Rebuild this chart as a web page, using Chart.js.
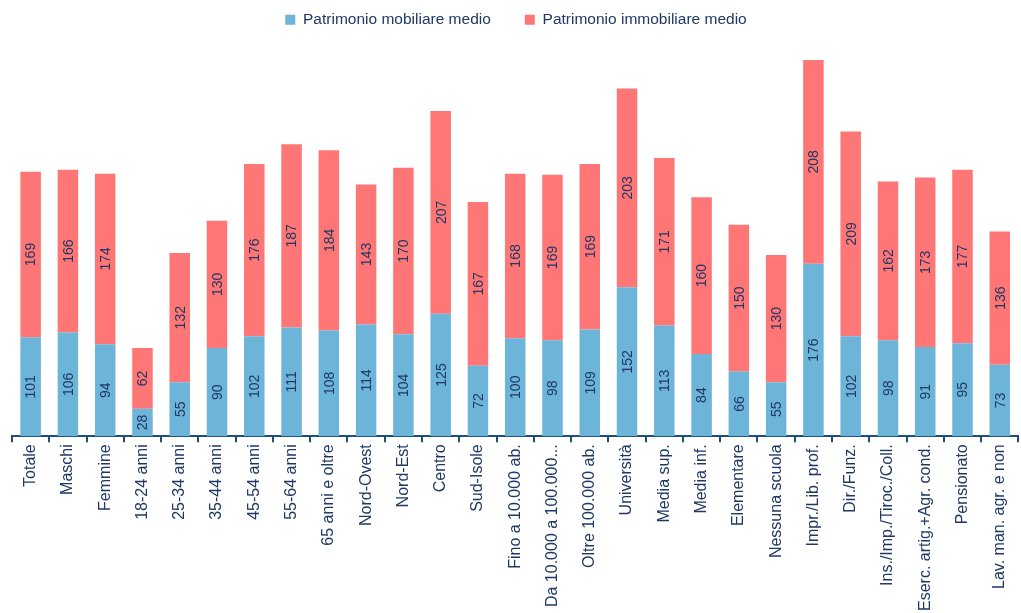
<!DOCTYPE html>
<html>
<head>
<meta charset="utf-8">
<script src="https://cdn.jsdelivr.net/npm/chart.js@4.4.1/dist/chart.umd.min.js"></script>
<style>
  html, body { margin: 0; padding: 0; background: #fff; }
  #wrap { width: 1021px; height: 613px; position: relative; }
</style>
</head>
<body>
<div id="wrap"><canvas id="chart"></canvas></div>
<script>
const categories = [
  "Totale", "Maschi", "Femmine", "18-24 anni", "25-34 anni", "35-44 anni",
  "45-54 anni", "55-64 anni", "65 anni e oltre", "Nord-Ovest", "Nord-Est",
  "Centro", "Sud-Isole", "Fino a 10.000 ab.", "Da 10.000 a 100.000...",
  "Oltre 100.000 ab.", "Università", "Media sup.", "Media inf.", "Elementare",
  "Nessuna scuola", "Impr./Lib. prof.", "Dir./Funz.", "Ins./Imp./Tiroc./Coll.",
  "Eserc. artig.+Agr. cond.", "Pensionato", "Lav. man. agr. e non"
];
const mobiliare = [101, 106, 94, 28, 55, 90, 102, 111, 108, 114, 104, 125, 72,
  100, 98, 109, 152, 113, 84, 66, 55, 176, 102, 98, 91, 95, 73];
const immobiliare = [169, 166, 174, 62, 132, 130, 176, 187, 184, 143, 170, 207, 167,
  168, 169, 169, 203, 171, 160, 150, 130, 208, 209, 162, 173, 177, 136];

const textColor = "#1f3864";
const axisColor = "#1f4e79";
const fontFamily = "'Liberation Sans', Arial, sans-serif";

// numbers written vertically inside each bar segment
const barLabels = {
  id: "barLabels",
  afterDatasetsDraw(chart) {
    const ctx = chart.ctx;
    ctx.save();
    ctx.font = "14px " + fontFamily;
    ctx.fillStyle = textColor;
    ctx.textAlign = "center";
    ctx.textBaseline = "middle";
    chart.data.datasets.forEach((ds, di) => {
      chart.getDatasetMeta(di).data.forEach((bar, i) => {
        const { x, y, base } = bar.getProps(["x", "y", "base"], true);
        ctx.save();
        ctx.translate(x, (y + base) / 2);
        ctx.rotate(-Math.PI / 2);
        ctx.fillText(String(ds.data[i]), 0, 1);
        ctx.restore();
      });
    });
    ctx.restore();
  }
};

new Chart(document.getElementById("chart"), {
  type: "bar",
  data: {
    labels: categories,
    datasets: [
      { label: "Patrimonio mobiliare medio", data: mobiliare, backgroundColor: "#6cb4d8" },
      { label: "Patrimonio immobiliare medio", data: immobiliare, backgroundColor: "#ff7676" }
    ]
  },
  options: {
    responsive: true,
    maintainAspectRatio: false,
    animation: false,
    // negative top pulls the wide-spaced legend up to the edge
    layout: { padding: { left: 12, right: 1, top: -22, bottom: 0 } },
    datasets: { bar: { barPercentage: 0.55, categoryPercentage: 1 } },
    plugins: {
      legend: {
        labels: {
          color: textColor,
          font: { family: fontFamily, size: 15.5 },
          boxWidth: 10,
          boxHeight: 10,
          padding: 34
        }
      },
      tooltip: { enabled: false }
    },
    scales: {
      x: {
        stacked: true,
        border: { color: axisColor, width: 2 },
        grid: { offset: true, drawOnChartArea: false, drawTicks: true, tickLength: 6, color: axisColor, lineWidth: 2 },
        ticks: {
          color: textColor,
          font: { family: fontFamily, size: 16 },
          minRotation: 90,
          maxRotation: 90,
          autoSkip: false,
          padding: 2
        }
      },
      y: { stacked: true, display: false, min: 0, max: 407 }
    }
  },
  plugins: [barLabels]
});
</script>
</body>
</html>
